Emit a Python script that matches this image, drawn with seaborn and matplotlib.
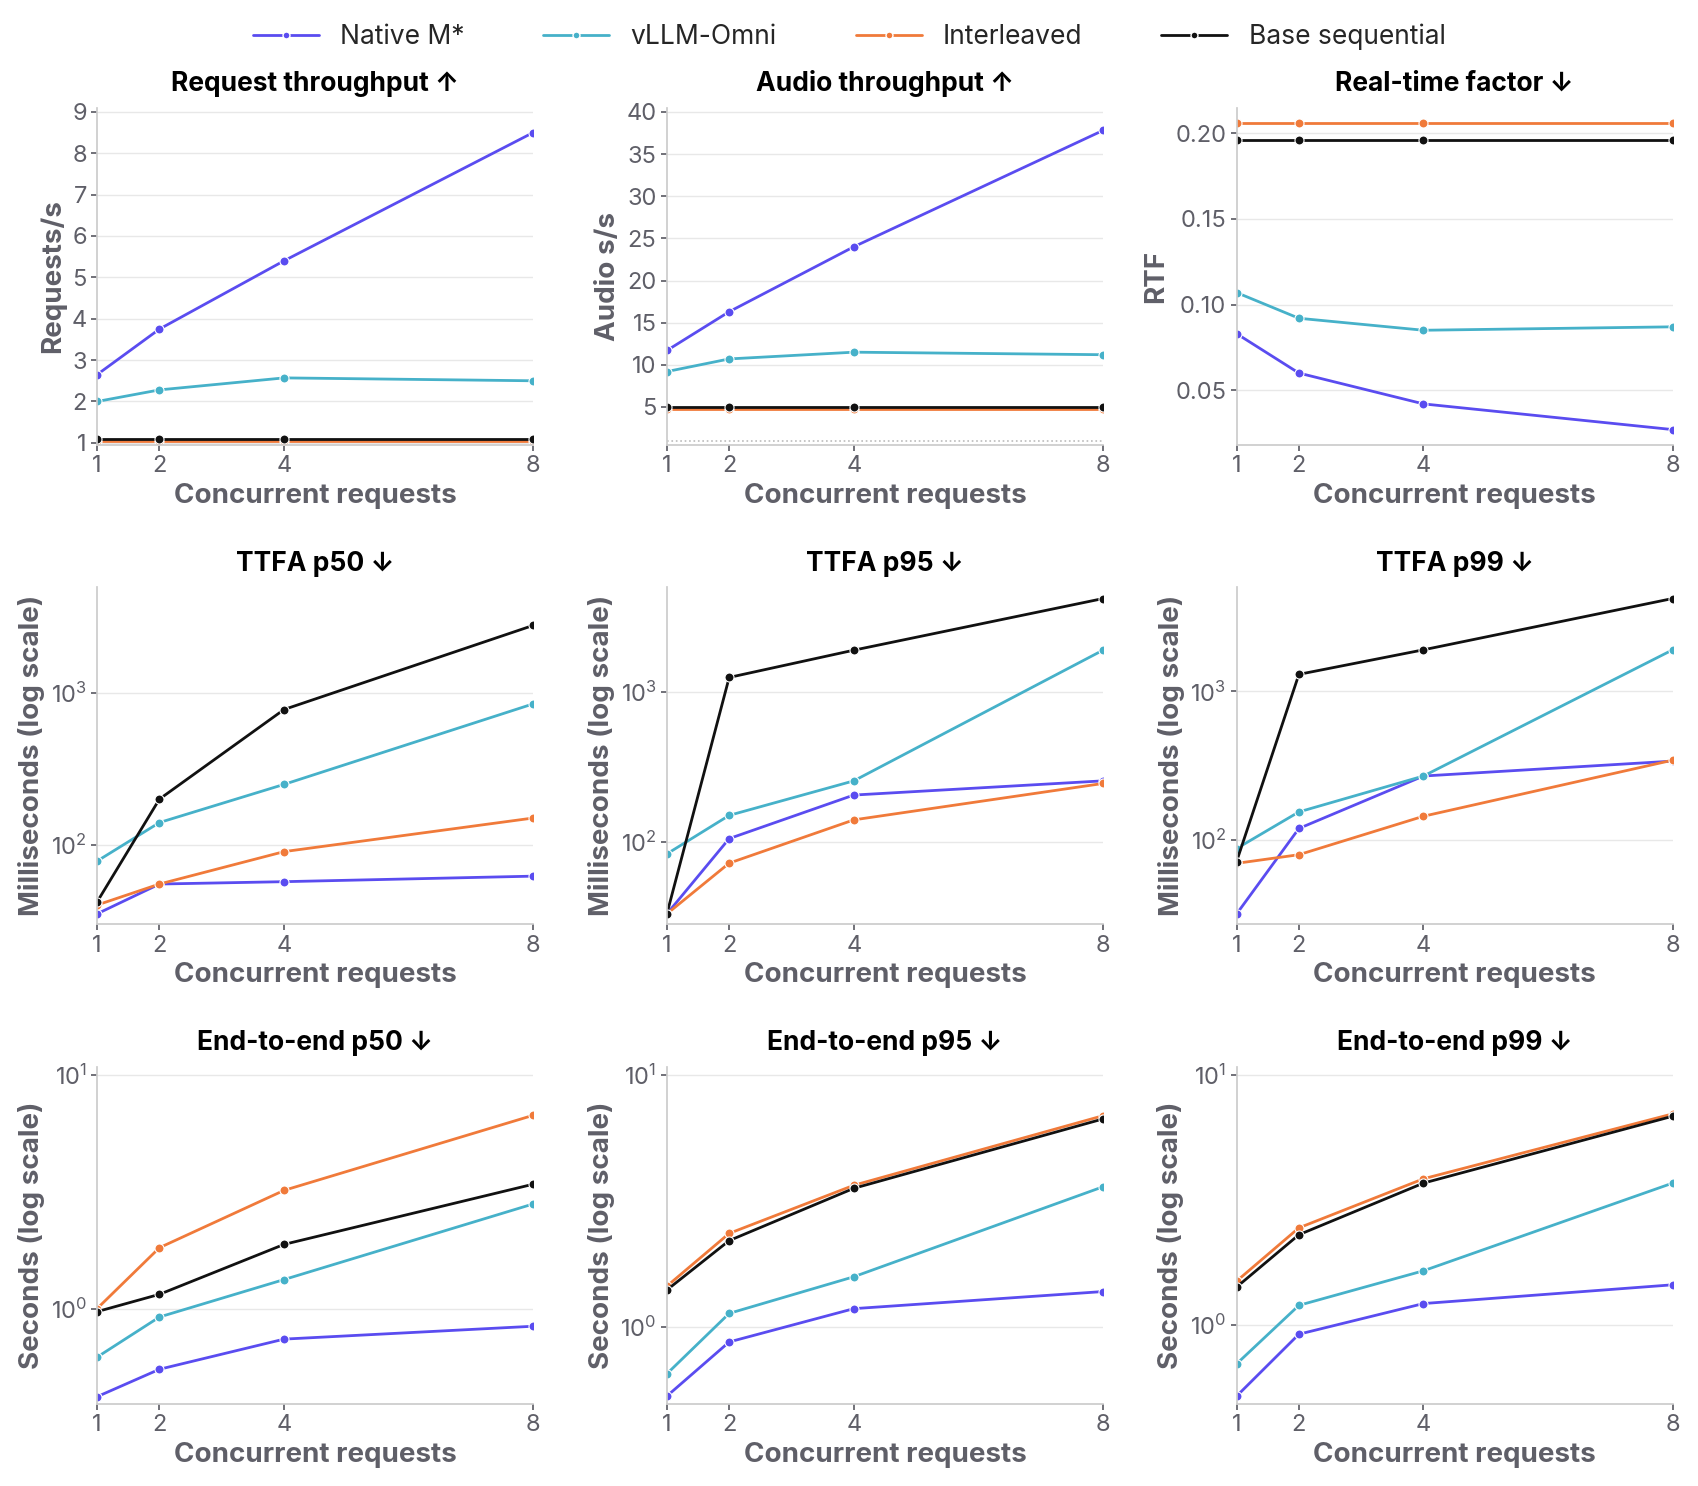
import matplotlib
matplotlib.use("Agg")
import matplotlib.pyplot as plt
import seaborn as sns
import pandas as pd

conc = [1, 2, 4, 8]
series = ["Native M*", "vLLM-Omni", "Interleaved", "Base sequential"]
colors = ["#5a4cf0", "#46b1c9", "#f07a3a", "#111111"]

req_tp = [[2.65, 3.75, 5.4, 8.5], [2.0, 2.28, 2.57, 2.5], [1.05, 1.05, 1.05, 1.05], [1.1, 1.1, 1.1, 1.1]]
audio_tp = [[11.7, 16.3, 24.0, 37.8], [9.2, 10.7, 11.5, 11.2], [4.75, 4.75, 4.75, 4.75], [5.0, 5.0, 5.0, 5.0]]
rtf = [[0.083, 0.060, 0.042, 0.027], [0.107, 0.092, 0.085, 0.087], [0.206, 0.206, 0.206, 0.206], [0.196, 0.196, 0.196, 0.196]]
ttfa50 = [[35, 55, 57, 62], [78, 140, 250, 850], [40, 55, 90, 150], [42, 200, 780, 2800]]
ttfa95 = [[33, 105, 205, 255], [83, 150, 255, 1900], [33, 72, 140, 245], [33, 1250, 1900, 4200]]
ttfa99 = [[32, 120, 270, 340], [88, 155, 270, 1900], [70, 80, 145, 345], [72, 1300, 1900, 4200]]
e2e50 = [[0.42, 0.55, 0.74, 0.84], [0.62, 0.92, 1.33, 2.8], [1.0, 1.82, 3.2, 6.7], [0.97, 1.15, 1.88, 3.4]]
e2e95 = [[0.53, 0.87, 1.18, 1.38], [0.65, 1.13, 1.58, 3.6], [1.45, 2.35, 3.65, 6.9], [1.4, 2.2, 3.55, 6.7]]
e2e99 = [[0.52, 0.92, 1.22, 1.45], [0.7, 1.2, 1.65, 3.7], [1.5, 2.45, 3.85, 7.0], [1.42, 2.3, 3.7, 6.85]]

panels = [
    ("Request throughput ↑", "Requests/s", req_tp, False),
    ("Audio throughput ↑", "Audio s/s", audio_tp, False),
    ("Real-time factor ↓", "RTF", rtf, False),
    ("TTFA p50 ↓", "Milliseconds (log scale)", ttfa50, True),
    ("TTFA p95 ↓", "Milliseconds (log scale)", ttfa95, True),
    ("TTFA p99 ↓", "Milliseconds (log scale)", ttfa99, True),
    ("End-to-end p50 ↓", "Seconds (log scale)", e2e50, True),
    ("End-to-end p95 ↓", "Seconds (log scale)", e2e95, True),
    ("End-to-end p99 ↓", "Seconds (log scale)", e2e99, True),
]

sns.set_theme(style="white")
plt.rcParams["font.family"] = ["Inter", "DejaVu Sans"]
gray = "#5f5f68"

fig, axes = plt.subplots(3, 3, figsize=(16.98, 14.86), dpi=100)
for ax, (title, ylab, data, logy) in zip(axes.flat, panels):
    rows = []
    for s, vals in zip(series, data):
        for c, v in zip(conc, vals):
            rows.append({"x": c, "y": v, "s": s})
    df = pd.DataFrame(rows)
    sns.lineplot(data=df, x="x", y="y", hue="s", hue_order=series, palette=colors,
                 marker="o", markersize=6.5, markeredgecolor="white", markeredgewidth=0.8,
                 linewidth=2, ax=ax, legend=False)
    if logy:
        ax.set_yscale("log")
    if title.startswith("Audio"):
        ax.axhline(1.0, color="#bbbbbb", linestyle=":", linewidth=1.2)
        ax.set_ylim(0.5, 40.5)
        ax.set_yticks([5, 10, 15, 20, 25, 30, 35, 40])
    if title.startswith("Request"):
        ax.set_ylim(0.95, 9.1)
        ax.set_yticks(range(1, 10))
    if title.startswith("End"):
        lo = min(min(v) for v in data)
        ax.set_ylim(lo * 0.93, 10.8)
    if title.startswith("TTFA"):
        lo = min(min(v) for v in data)
        ax.set_ylim(lo * 0.85, 5000)
    ax.set_xticks(conc)
    ax.set_xlim(1, 8)
    ax.set_title(title, fontsize=19, fontweight="bold", color="black", pad=12)
    ax.set_xlabel("Concurrent requests", fontsize=20, fontweight="bold", color=gray)
    ax.set_ylabel(ylab, fontsize=20, fontweight="bold", color=gray)
    ax.tick_params(labelsize=17, colors=gray, length=4, left=True, bottom=True)
    ax.yaxis.grid(True, color="#e8e8e8", linewidth=1)
    for sp in ["top", "right"]:
        ax.spines[sp].set_visible(False)
    for sp in ["left", "bottom"]:
        ax.spines[sp].set_color("#cccccc")

handles = [plt.Line2D([], [], color=c, marker="o", markersize=5, markeredgecolor="white", linewidth=2) for c in colors]
fig.legend(handles, series, loc="upper center", ncol=4, frameon=False, fontsize=19,
           bbox_to_anchor=(0.5, 1.0), handlelength=2.5, columnspacing=3)
fig.tight_layout(rect=[0, 0, 1, 0.965], h_pad=2.5, w_pad=2.0)
fig.savefig("out.png", dpi=100)
